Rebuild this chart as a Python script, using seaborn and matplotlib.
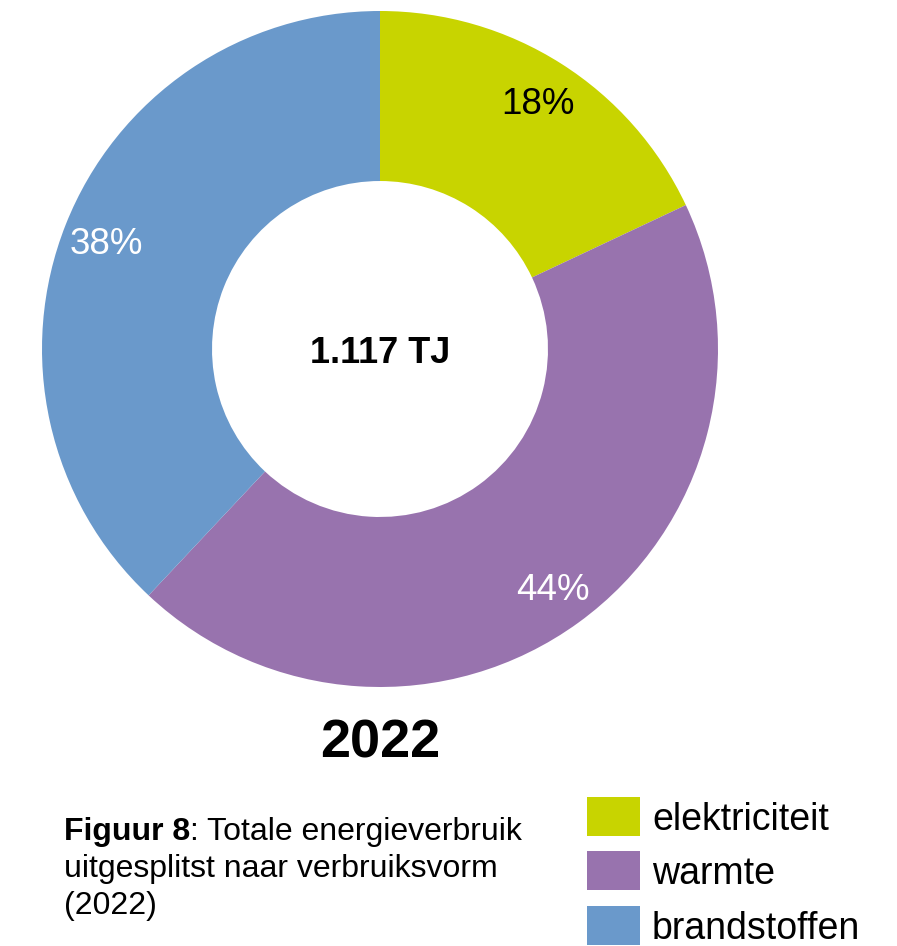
import matplotlib
matplotlib.use("Agg")
import matplotlib.pyplot as plt
from matplotlib.patches import Rectangle
import seaborn as sns

categories = ["elektriciteit", "warmte", "brandstoffen"]
shares = [18, 44, 38]
colors = ["#C8D400", "#9873AE", "#6A99CB"]
label_colors = ["black", "white", "white"]
total_label = "1.117 TJ"
year_label = "2022"
caption_bold = "Figuur 8"
caption_lines = [": Totale energieverbruik", "uitgesplitst naar verbruiksvorm", "(2022)"]

sns.set_theme(style="white")
plt.rcParams["font.family"] = ["Liberation Sans", "DejaVu Sans"]
plt.rcParams["text.color"] = "black"

W, H = 897, 946
fig = plt.figure(figsize=(W / 100, H / 100), dpi=100)
fig.patch.set_facecolor("white")

cx, cy, R = 380, 349, 338
ax = fig.add_axes([(cx - R) / W, (H - cy - R) / H, 2 * R / W, 2 * R / H])
wedges, texts, autotexts = ax.pie(
    shares, colors=colors, startangle=90, counterclock=False,
    radius=1, wedgeprops=dict(width=0.503, linewidth=0),
    autopct=lambda p: f"{p:.0f}%", pctdistance=0.87,
    textprops=dict(fontsize=26.5, va="center_baseline"),
)
for t, c in zip(autotexts, label_colors):
    t.set_color(c)
ax.set_xlim(-1, 1)
ax.set_ylim(-1, 1)
ax.set_aspect("equal")
ax.axis("off")
ax.text(0, 0.0, total_label, ha="center", va="center_baseline", fontsize=26,
        fontweight="bold", color="black")

def fx(px):
    return px / W

def fy(py):
    return 1 - py / H

fig.text(fx(380), fy(738), year_label, ha="center", va="center_baseline", fontsize=39, fontweight="bold")

# caption
cap_size = 23
t1 = fig.text(fx(64), fy(828), caption_bold, ha="left", va="center_baseline", fontsize=cap_size, fontweight="bold")
fig.canvas.draw()
bb = t1.get_window_extent()
fig.text(bb.x1 / W, fy(828), caption_lines[0], ha="left", va="center_baseline", fontsize=cap_size)
for i, line in enumerate(caption_lines[1:]):
    fig.text(fx(64), fy(865 + 37 * i), line, ha="left", va="center_baseline", fontsize=cap_size)

# legend
rows = [797, 851, 906]
for top, name, col in zip(rows, categories, colors):
    fig.patches.append(Rectangle((fx(587), fy(top + 39)), 53 / W, 39 / H,
                                 transform=fig.transFigure, facecolor=col, edgecolor="none"))
    fig.text(fx(652), fy(top + 19), name, ha="left", va="center_baseline", fontsize=27)

fig.savefig("out.png", dpi=100, facecolor="white")
